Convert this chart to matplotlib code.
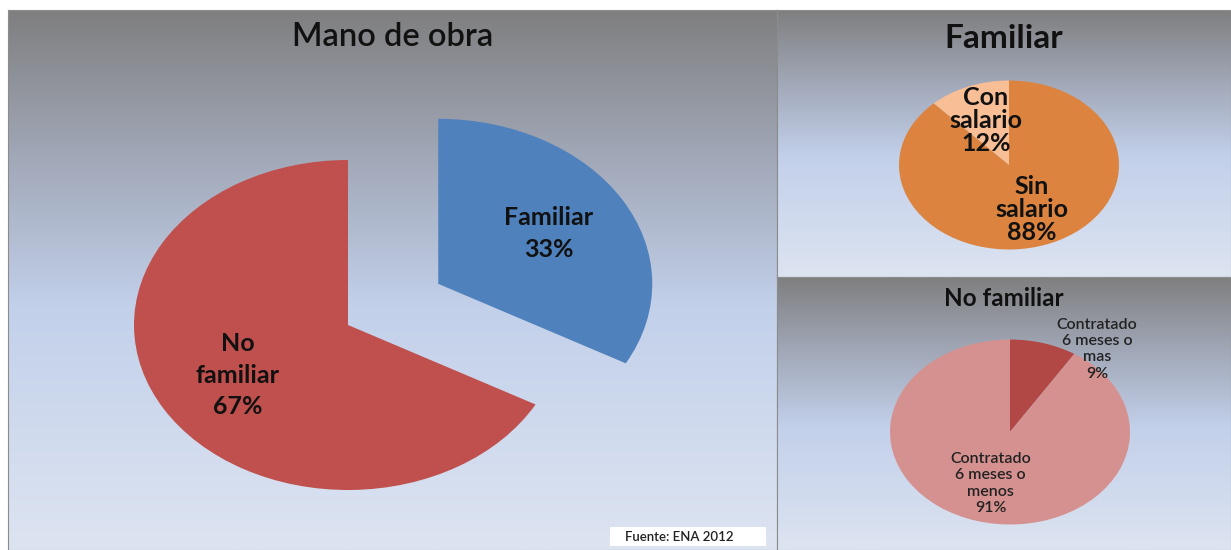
import numpy as np
import matplotlib.pyplot as plt
from matplotlib.colors import LinearSegmentedColormap
from matplotlib.patches import Rectangle

plt.rcParams['font.family'] = ['Lato', 'DejaVu Sans']

# data
main_names = ['Familiar', 'No\nfamiliar']
main_values = [33, 67]
main_colors = ['#4F81BD', '#C0504D']

fam_names = ['Con\nsalario', 'Sin\nsalario']
fam_values = [12, 88]
fam_colors = ['#F8BE96', '#DC843F']

nofam_names = ['Contratado\n6 meses o\nmas', 'Contratado\n6 meses o\nmenos']
nofam_values = [9, 91]
nofam_colors = ['#B24846', '#D59190']

source = 'Fuente: ENA 2012'

W, H = 1231, 550
fig = plt.figure(figsize=(W / 100, H / 100), dpi=100)

# grey to pale blue background used by every panel
bg = LinearSegmentedColormap.from_list('bg', [
    (0.0, '#7f7f80'), (0.28, '#a2a9b9'), (0.55, '#c2d0ea'), (1.0, '#dde4f1')])


def px_axes(x0, y0, x1, y1, z=0):
    return fig.add_axes([x0 / W, 1 - y1 / H, (x1 - x0) / W, (y1 - y0) / H], zorder=z)


def panel(box):
    ax = px_axes(*box)
    ax.imshow(np.linspace(0, 1, 256).reshape(-1, 1), cmap=bg, aspect='auto',
              extent=[0, 1, 0, 1])
    ax.set_xticks([])
    ax.set_yticks([])
    for s in ax.spines.values():
        s.set_color('#8c8c8c')
        s.set_linewidth(0.8)
    return ax


def pie_axes(box, cx, cy, rx, ry):
    # axes limits chosen so that a unit pie becomes an ellipse rx by ry px
    x0, y0, x1, y1 = box
    ax = px_axes(*box, z=2)
    ax.set_facecolor('none')
    return ax, ((x0 - cx) / rx, (x1 - cx) / rx), ((cy - y1) / ry, (cy - y0) / ry)


def finish(ax, xl, yl, texts):
    for t in texts:
        t.set_ha('center')
        t.set_va('center')
    ax.set_aspect('auto')
    ax.set_xlim(*xl)
    ax.set_ylim(*yl)
    ax.axis('off')


# --- main panel ---
box = (8, 10, 777, 550)
panel(box)
ax, xl, yl = pie_axes(box, 348, 325, 214, 165)
labels = [f'{n}\n{v}%' for n, v in zip(main_names, main_values)]
wedges, texts = ax.pie(main_values, labels=labels, colors=main_colors, startangle=90,
                       counterclock=False, explode=[0.49, 0], labeldistance=0.6,
                       textprops=dict(fontsize=18, fontweight='bold', color='#111111',
                                      linespacing=1.45))
finish(ax, xl, yl, texts)
ax.text(0.5, 0.95, 'Mano de obra', transform=ax.transAxes, ha='center', va='center',
        fontsize=23.5, fontweight='semibold', color='#111111')

# source box
fig.add_artist(Rectangle((610 / W, 1 - 546 / H), 156 / W, 19 / H,
                         transform=fig.transFigure, fc='white', ec='none', zorder=5))
fig.text(625 / W, 1 - 537 / H, source, ha='left', va='center', fontsize=9.5,
         fontweight='semibold', color='#222222', zorder=6)

# --- top right panel: Familiar ---
box = (777, 10, 1231, 277)
panel(box)
ax, xl, yl = pie_axes(box, 1009, 165, 110, 84.5)
labels = [f'{n}\n{v}%' for n, v in zip(fam_names, fam_values)]
wedges, texts = ax.pie(fam_values, labels=labels, colors=fam_colors, startangle=90,
                       counterclock=True, labeldistance=0.57,
                       textprops=dict(fontsize=18, fontweight='bold', color='#111111',
                                      linespacing=1.0))
finish(ax, xl, yl, texts)
ax.text(0.5, 0.895, 'Familiar', transform=ax.transAxes, ha='center', va='center',
        fontsize=24, fontweight='bold', color='#111111')

# --- bottom right panel: No familiar ---
box = (777, 277, 1231, 550)
panel(box)
ax, xl, yl = pie_axes(box, 1010, 432, 120, 92.5)
labels = [f'{n}\n{v}%' for n, v in zip(nofam_names, nofam_values)]
wedges, texts = ax.pie(nofam_values, labels=labels, colors=nofam_colors, startangle=90,
                       counterclock=False, labeldistance=0.58,
                       textprops=dict(fontsize=11.5, fontweight='semibold', color='#222222',
                                      linespacing=1.2))
# small slice label sits outside the pie, up and to the right
ang = np.deg2rad(51)
texts[0].set_position((1.15 * np.cos(ang), 1.15 * np.sin(ang)))
finish(ax, xl, yl, texts)
ax.text(0.5, 0.92, 'No familiar', transform=ax.transAxes, ha='center', va='center',
        fontsize=17.5, fontweight='bold', color='#111111')

fig.savefig('out.png', dpi=100)
